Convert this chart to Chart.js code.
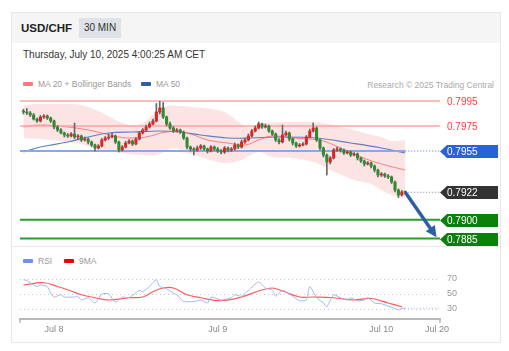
<!DOCTYPE html>
<html>
<head>
<meta charset="utf-8">
<script src="https://cdn.jsdelivr.net/npm/chart.js@4.4.1/dist/chart.umd.min.js"></script>
<style>
  body { margin: 0; width: 509px; height: 351px; background: #fff; position: relative; overflow: hidden;
         font-family: "Liberation Sans", Arial, sans-serif; }
  .card { position: absolute; left: 11px; top: 12px; width: 488px; height: 329px; border: 1px solid #e8e8e8; }
  .head { position: absolute; left: 0; top: 0; right: 0; height: 30px; background: #f5f5f5; }
  .pair { position: absolute; left: 9px; top: 9px; font-size: 11.5px; font-weight: bold; color: #222; }
  .tf { position: absolute; left: 67px; top: 5px; width: 42px; height: 20px; line-height: 20px; background: #dfe2e6;
        font-size: 10px; color: #333; text-align: center; }
  .date { position: absolute; left: 11px; top: 36px; font-size: 10px; color: #333; }
  .sep { position: absolute; left: 0; right: 0; top: 233px; height: 1px; background: #e8e8e8; }
  .leg { position: absolute; font-size: 8.5px; color: #999; white-space: nowrap; }
  .sw { display: inline-block; width: 10px; height: 4px; border-radius: 1px; vertical-align: middle; margin-right: 5px; position: relative; top: -1px; }
  .src { position: absolute; right: 6px; top: 67px; font-size: 8.5px; color: #aaa; }
  canvas { position: absolute; left: 0; }
</style>
</head>
<body>
<div class="card">
  <div class="head"><span class="pair">USD/CHF</span><span class="tf">30 MIN</span></div>
  <div class="date">Thursday, July 10, 2025 4:00:25 AM CET</div>
  <div class="leg" style="left:11px;top:66px"><span class="sw" style="background:#f77"></span>MA 20 + Bollinger Bands</div>
  <div class="leg" style="left:129px;top:66px"><span class="sw" style="background:#2f5ea8"></span>MA 50</div>
  <div class="src">Research © 2025 Trading Central</div>
  <div class="sep"></div>
  <div class="leg" style="left:11px;top:243px"><span class="sw" style="background:#6f8fe8"></span>RSI</div>
  <div class="leg" style="left:52px;top:243px"><span class="sw" style="background:#e00"></span>9MA</div>
</div>
<canvas id="priceChart" width="509" height="158" style="top:90px"></canvas>
<canvas id="rsiChart" width="509" height="75" style="top:262px"></canvas>
<script>
// candles: 30 min, slot 0 = Jul 8 00:00
const firstSlot = -9;
const opens = [0.79870,0.79862,0.79854,0.79838,0.79806,0.79790,0.79822,0.79830,0.79814,0.79790,0.79742,0.79718,0.79694,0.79678,0.79670,0.79686,0.79662,0.79670,0.79638,0.79646,
  0.79622,0.79598,0.79574,0.79590,0.79638,0.79654,0.79662,0.79670,0.79622,0.79558,0.79582,0.79614,0.79630,0.79606,0.79646,0.79694,0.79718,0.79742,0.79766,0.79790,
  0.79862,0.79894,0.79822,0.79766,0.79734,0.79710,0.79718,0.79702,0.79654,0.79582,0.79566,0.79558,0.79574,0.79590,0.79566,0.79550,0.79582,0.79566,0.79550,0.79542,
  0.79574,0.79558,0.79566,0.79598,0.79582,0.79622,0.79638,0.79670,0.79710,0.79734,0.79766,0.79742,0.79750,0.79710,0.79686,0.79638,0.79622,0.79678,0.79694,0.79646,
  0.79614,0.79590,0.79598,0.79606,0.79662,0.79710,0.79734,0.79638,0.79574,0.79518,0.79462,0.79494,0.79558,0.79566,0.79558,0.79534,0.79542,0.79518,0.79526,0.79494,
  0.79470,0.79446,0.79454,0.79430,0.79398,0.79358,0.79366,0.79350,0.79342,0.79302,0.79238,0.79198,0.79222];
const closes = [0.79862,0.79854,0.79838,0.79806,0.79790,0.79822,0.79830,0.79814,0.79790,0.79742,0.79718,0.79694,0.79678,0.79670,0.79686,0.79662,0.79670,0.79638,0.79646,0.79622,
  0.79598,0.79574,0.79590,0.79638,0.79654,0.79662,0.79670,0.79622,0.79558,0.79582,0.79614,0.79630,0.79606,0.79646,0.79694,0.79718,0.79742,0.79766,0.79790,0.79862,
  0.79894,0.79822,0.79766,0.79734,0.79710,0.79718,0.79702,0.79654,0.79582,0.79566,0.79558,0.79574,0.79590,0.79566,0.79550,0.79582,0.79566,0.79550,0.79542,0.79574,
  0.79558,0.79566,0.79598,0.79582,0.79622,0.79638,0.79670,0.79710,0.79734,0.79766,0.79742,0.79750,0.79710,0.79686,0.79638,0.79622,0.79678,0.79694,0.79646,0.79614,
  0.79590,0.79598,0.79606,0.79662,0.79710,0.79734,0.79638,0.79574,0.79518,0.79462,0.79494,0.79558,0.79566,0.79558,0.79534,0.79542,0.79518,0.79526,0.79494,0.79470,
  0.79446,0.79454,0.79430,0.79398,0.79358,0.79366,0.79350,0.79342,0.79302,0.79238,0.79198,0.79222,0.79220];
const highs = [0.79884,0.79890,0.79866,0.79850,0.79814,0.79834,0.79842,0.79838,0.79822,0.79798,0.79754,0.79730,0.79702,0.79690,0.79698,0.79774,0.79682,0.79678,0.79662,0.79654,
  0.79630,0.79606,0.79602,0.79650,0.79666,0.79686,0.79694,0.79678,0.79630,0.79594,0.79626,0.79642,0.79638,0.79658,0.79706,0.79730,0.79758,0.79782,0.79806,0.79930,
  0.79946,0.79938,0.79830,0.79782,0.79746,0.79730,0.79726,0.79710,0.79662,0.79590,0.79578,0.79590,0.79602,0.79598,0.79574,0.79594,0.79590,0.79578,0.79562,0.79586,
  0.79582,0.79578,0.79614,0.79606,0.79638,0.79654,0.79686,0.79722,0.79750,0.79782,0.79774,0.79766,0.79758,0.79718,0.79694,0.79650,0.79758,0.79710,0.79702,0.79654,
  0.79622,0.79610,0.79618,0.79674,0.79726,0.79774,0.79742,0.79646,0.79582,0.79526,0.79506,0.79570,0.79582,0.79574,0.79566,0.79554,0.79550,0.79538,0.79534,0.79502,
  0.79478,0.79466,0.79462,0.79438,0.79406,0.79378,0.79374,0.79362,0.79350,0.79310,0.79246,0.79234,0.79230];
const lows = [0.79846,0.79842,0.79826,0.79798,0.79778,0.79782,0.79810,0.79802,0.79778,0.79726,0.79706,0.79686,0.79662,0.79658,0.79662,0.79650,0.79646,0.79626,0.79630,0.79606,
  0.79586,0.79550,0.79566,0.79582,0.79630,0.79642,0.79654,0.79610,0.79542,0.79550,0.79574,0.79606,0.79594,0.79598,0.79638,0.79686,0.79706,0.79734,0.79758,0.79782,
  0.79846,0.79810,0.79750,0.79722,0.79698,0.79702,0.79690,0.79642,0.79566,0.79550,0.79518,0.79546,0.79562,0.79554,0.79534,0.79542,0.79554,0.79538,0.79526,0.79530,
  0.79542,0.79546,0.79558,0.79570,0.79574,0.79610,0.79630,0.79662,0.79702,0.79726,0.79730,0.79734,0.79698,0.79674,0.79626,0.79606,0.79614,0.79670,0.79630,0.79598,
  0.79578,0.79582,0.79590,0.79598,0.79654,0.79702,0.79626,0.79558,0.79502,0.79358,0.79446,0.79486,0.79546,0.79542,0.79522,0.79526,0.79506,0.79510,0.79478,0.79458,
  0.79430,0.79438,0.79414,0.79382,0.79342,0.79346,0.79338,0.79330,0.79290,0.79222,0.79178,0.79190,0.79210];

// indicators: [slot, value]
const upperBand = [[-9,0.79918],[-5,0.79926],[0,0.79926],[5,0.79926],[9,0.79910],[13,0.79870],[17,0.79814],[20,0.79774],[24,0.79758],[27,0.79790],
  [30,0.79862],[33,0.79910],[37,0.79910],[40,0.79902],[44,0.79894],[48,0.79878],[51,0.79846],[54,0.79782],[56,0.79750],[58,0.79742],[60,0.79766],
  [63,0.79774],[67,0.79782],[71,0.79782],[75,0.79782],[79,0.79774],[84,0.79742],[88,0.79718],[92,0.79686],[96,0.79662],[99,0.79630],[103,0.79638]];
const lowerBand = [[-9,0.79654],[-1,0.79638],[9,0.79598],[13,0.79558],[20,0.79534],[25,0.79518],[30,0.79518],[35,0.79574],[39,0.79534],[42,0.79510],
  [48,0.79462],[51,0.79454],[55,0.79478],[60,0.79542],[64,0.79502],[70,0.79494],[76,0.79462],[81,0.79398],[88,0.79318],[93,0.79286],[97,0.79222],
  [101,0.79182],[103,0.79174]];
const ma20 = [[-9,0.79742],[-4,0.79758],[4,0.79742],[10,0.79718],[14,0.79694],[19,0.79662],[23,0.79654],[27,0.79662],[33,0.79702],[39,0.79694],
  [45,0.79638],[51,0.79614],[56,0.79598],[60,0.79638],[64,0.79670],[70,0.79654],[75,0.79646],[79,0.79630],[84,0.79574],[90,0.79502],[96,0.79446],[103,0.79398]];
const ma50 = [[-9,0.79542],[-4,0.79582],[4,0.79622],[10,0.79662],[16,0.79694],[23,0.79702],[31,0.79710],[37,0.79702],[43,0.79678],[51,0.79654],
  [58,0.79654],[65,0.79662],[77,0.79654],[87,0.79614],[96,0.79574],[103,0.79534]];
const rsi = [[-9,69],[-8,68],[-6,62],[-5,60],[-4,62],[-2,60],[-1,51],[0,46],[2,49],[3,46],[6,46],[7,47],[8,42],[10,45],[12,38],[14,50],[16,50],[18,39],
  [20,46],[22,45],[25,55],[26,53],[28,60],[30,69],[31,60],[33,57],[35,51],[36,49],[38,40],[41,40],[43,42],[45,38],[46,46],[49,42],[52,45],[53,49],
  [55,47],[57,55],[60,66],[62,58],[64,55],[65,47],[67,55],[70,47],[72,41],[74,42],[75,60],[77,45],[79,38],[80,33],[82,49],[84,45],[86,42],[87,45],
  [89,41],[91,42],[92,45],[94,38],[96,37],[98,34],[101,29],[102,31],[103,31]];
const rsiMa = [[-9,62],[-3,65],[1,60],[5,54],[8,49],[12,45],[16,42],[22,45],[26,46],[29,53],[32,58],[35,58],[39,49],[43,45],[49,41],[55,46],[60,54],
  [64,58],[67,54],[72,46],[76,46],[82,45],[88,42],[93,44],[98,38],[102,33]];

// key levels
const levelValues = [0.7995, 0.7975, 0.7955, 0.7922, 0.7900, 0.7885];
const levelLabels = ['0.7995', '0.7975', '0.7955', '0.7922', '0.7900', '0.7885'];
const arrowFrom = [103, 0.7922];
const arrowTo = [112.2, 0.7886];

// time axis
const tickValues = [0, 48, 96, 112.3];
const tickLabels = ['Jul 8', 'Jul 9', 'Jul 10', 'Jul 20'];
const rsiTicks = [30, 50, 70];

const X_MIN = -10, X_MAX = 113.2;
const FONT = '"Liberation Sans", Arial, sans-serif';
const UP = '#d8262a', DOWN = '#2e8b2e';

const levelStyles = [
  {line: '#ffa3a3', width: 1.5, text: '#ff4040'},
  {line: '#ffa3a3', width: 1.5, text: '#ff4040'},
  {line: '#86a9ee', width: 2, tag: '#2a62d8'},
  {line: '#888', width: 1, dash: [1, 2], tag: '#333', from: 103},
  {line: '#2f9a2f', width: 2, tag: '#0a820a'},
  {line: '#2f9a2f', width: 2, tag: '#0a820a'}
];

const pts = arr => arr.map(p => ({x: p[0], y: p[1]}));
const slots = closes.map((_, k) => firstSlot + k);

const levelSets = [];
levelValues.forEach((v, n) => {
  const st = levelStyles[n];
  levelSets.push({type: 'line', data: [{x: st.from ?? X_MIN, y: v}, {x: X_MAX, y: v}],
    borderColor: st.line, borderWidth: st.width, borderDash: st.dash || [], pointRadius: 0, order: 6});
});
// dotted tail of the 0.7955 line after the last candle
levelSets[2].data = [{x: X_MIN, y: levelValues[2]}, {x: 103, y: levelValues[2]}];
levelSets.push({type: 'line', data: [{x: 103, y: levelValues[2]}, {x: X_MAX, y: levelValues[2]}],
  borderColor: '#86a9ee', borderWidth: 1.5, borderDash: [1, 2], pointRadius: 0, order: 6});

const levelTags = {
  id: 'levelTags',
  afterDatasetsDraw(chart) {
    const {ctx, chartArea, scales: {x, y}} = chart;
    ctx.save();
    // forecast arrow
    const x0 = x.getPixelForValue(arrowFrom[0]), y0 = y.getPixelForValue(arrowFrom[1]);
    const x1 = x.getPixelForValue(arrowTo[0]), y1 = y.getPixelForValue(arrowTo[1]);
    const ang = Math.atan2(y1 - y0, x1 - x0);
    ctx.strokeStyle = '#2f5ea8'; ctx.fillStyle = '#2f5ea8'; ctx.lineWidth = 3.5;
    ctx.beginPath(); ctx.moveTo(x0, y0);
    ctx.lineTo(x1 - 8 * Math.cos(ang), y1 - 8 * Math.sin(ang)); ctx.stroke();
    ctx.beginPath(); ctx.moveTo(x1, y1);
    ctx.lineTo(x1 - 11 * Math.cos(ang) + 5.5 * Math.sin(ang), y1 - 11 * Math.sin(ang) - 5.5 * Math.cos(ang));
    ctx.lineTo(x1 - 11 * Math.cos(ang) - 5.5 * Math.sin(ang), y1 - 11 * Math.sin(ang) + 5.5 * Math.cos(ang));
    ctx.closePath(); ctx.fill();
    // price tags
    ctx.font = '10px ' + FONT;
    ctx.textBaseline = 'middle';
    const left = chartArea.right;
    levelValues.forEach((v, n) => {
      const py = Math.round(y.getPixelForValue(v)) + 0.5;
      const st = levelStyles[n];
      if (st.tag) {
        ctx.fillStyle = st.tag;
        ctx.beginPath();
        ctx.moveTo(left, py);
        ctx.lineTo(left + 7, py - 6.5);
        ctx.lineTo(left + 58, py - 6.5);
        ctx.lineTo(left + 58, py + 6.5);
        ctx.lineTo(left + 7, py + 6.5);
        ctx.closePath();
        ctx.fill();
        ctx.fillStyle = '#fff';
      } else {
        ctx.fillStyle = st.text;
      }
      ctx.fillText(levelLabels[n], left + 7, py + 0.5);
    });
    ctx.restore();
  }
};

new Chart(document.getElementById('priceChart'), {
  type: 'bar',
  data: {
    datasets: [
      {type: 'line', data: pts(upperBand), borderWidth: 0, pointRadius: 0, tension: 0.4,
       fill: '+1', backgroundColor: 'rgba(250,170,170,0.32)', order: 10},
      {type: 'line', data: pts(lowerBand), borderWidth: 0, pointRadius: 0, tension: 0.4, order: 10},
      {type: 'line', data: pts(ma20), borderColor: 'rgba(240,95,95,0.75)', borderWidth: 1, pointRadius: 0, tension: 0.4, order: 8},
      {type: 'line', data: pts(ma50), borderColor: '#5b7fc2', borderWidth: 1.2, pointRadius: 0, tension: 0.4, order: 8},
      ...levelSets,
      {data: slots.map((s, k) => ({x: s, y: [lows[k], highs[k]]})), barThickness: 1, grouped: false,
       backgroundColor: '#666', order: 2},
      {data: slots.map((s, k) => ({x: s, y: [opens[k], closes[k]]})), barThickness: 2.4, grouped: false, minBarLength: 1,
       backgroundColor: c => closes[c.dataIndex] >= opens[c.dataIndex] ? UP : DOWN, order: 1}
    ]
  },
  options: {
    responsive: false, animation: false, devicePixelRatio: 1,
    layout: {padding: {left: 20, right: 69, top: 0, bottom: 0}},
    plugins: {legend: {display: false}, tooltip: {enabled: false}},
    scales: {
      x: {type: 'linear', min: X_MIN, max: X_MAX, display: false, offset: false},
      y: {min: 0.78774, max: 0.80038, display: false}
    }
  },
  plugins: [levelTags]
});

const axisEnds = {
  id: 'axisEnds',
  afterDraw(chart) {
    const {ctx, chartArea} = chart;
    ctx.save();
    ctx.strokeStyle = '#b8b8b8'; ctx.lineWidth = 1.5;
    [chartArea.left, chartArea.right].forEach(px => {
      ctx.beginPath(); ctx.moveTo(px, chartArea.bottom); ctx.lineTo(px, chartArea.bottom + 4); ctx.stroke();
    });
    ctx.restore();
  }
};

new Chart(document.getElementById('rsiChart'), {
  type: 'line',
  data: {
    datasets: [
      {data: pts(rsi), borderColor: '#a3b6f2', borderWidth: 1, pointRadius: 0, tension: 0.2},
      {data: pts(rsiMa), borderColor: '#ff5a5a', borderWidth: 1.2, pointRadius: 0, tension: 0.4},
      {data: [{x: 102, y: 31}, {x: X_MAX, y: 31}], borderColor: '#a3b6f2', borderWidth: 1.2, borderDash: [1, 2], pointRadius: 0}
    ]
  },
  options: {
    responsive: false, animation: false, devicePixelRatio: 1,
    layout: {padding: {left: 20, right: 0, top: 0, bottom: 0}},
    plugins: {legend: {display: false}, tooltip: {enabled: false}},
    scales: {
      x: {
        type: 'linear', min: X_MIN, max: X_MAX,
        grid: {display: false, drawTicks: false},
        border: {color: '#b8b8b8', width: 2},
        afterBuildTicks: s => { s.ticks = tickValues.map(v => ({value: v})); },
        ticks: {padding: 5, color: '#888', font: {size: 9, family: FONT}, maxRotation: 0, autoSkip: false,
                callback: (v, i) => tickLabels[i]},
        afterFit: s => { s.height = 18; s.paddingLeft = 0; s.paddingRight = 0; }
      },
      y: {
        position: 'right', min: 16.67, max: 92.67,
        grid: {color: '#c8c8c8', borderDash: [1, 3], drawTicks: false},
        border: {display: false, dash: [1, 3]},
        afterBuildTicks: s => { s.ticks = rsiTicks.map(v => ({value: v})); },
        ticks: {padding: 7, color: '#999', font: {size: 9, family: FONT}},
        afterFit: s => { s.width = 69; s.paddingTop = 0; s.paddingBottom = 0; }
      }
    }
  },
  plugins: [axisEnds]
});
</script>
</body>
</html>
